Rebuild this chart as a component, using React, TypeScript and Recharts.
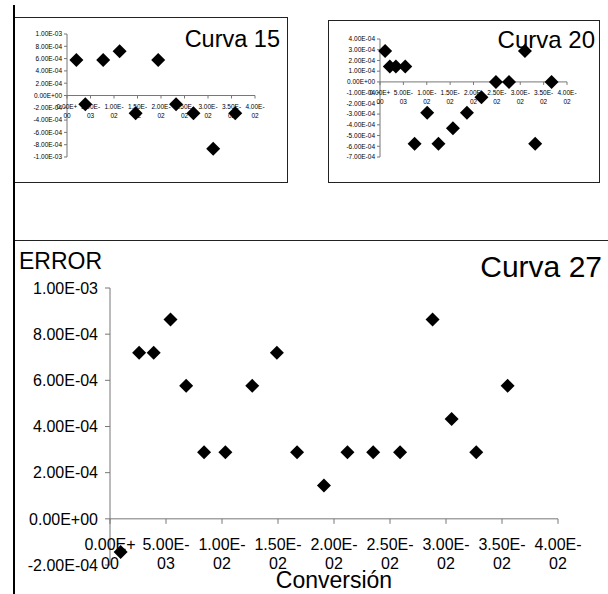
import React from 'react';
import { ScatterChart, Scatter, XAxis, YAxis, ReferenceLine } from 'recharts';

// Curva 15
const c15X = [0.002, 0.0039, 0.0077, 0.0112, 0.0146, 0.0194, 0.0232, 0.0269, 0.0311, 0.0358];
const c15Y = [5.76e-4, -1.44e-4, 5.76e-4, 7.2e-4, -2.88e-4, 5.76e-4, -1.44e-4, -2.88e-4, -8.64e-4, -2.88e-4];
const c15YTicks = [-1e-3, -8e-4, -6e-4, -4e-4, -2e-4, 0, 2e-4, 4e-4, 6e-4, 8e-4, 1e-3];

// Curva 20
const c20X = [0.0011, 0.0021, 0.0034, 0.0054, 0.0074, 0.0101, 0.0125, 0.0156, 0.0186, 0.0217, 0.0248, 0.0276, 0.031, 0.0332, 0.0367];
const c20Y = [2.88e-4, 1.44e-4, 1.44e-4, 1.44e-4, -5.76e-4, -2.88e-4, -5.76e-4, -4.32e-4, -2.88e-4, -1.44e-4, 0, 0, 2.88e-4, -5.76e-4, 0];
const c20YTicks = [-7e-4, -6e-4, -5e-4, -4e-4, -3e-4, -2e-4, -1e-4, 0, 1e-4, 2e-4, 3e-4, 4e-4];

// Curva 27
const c27X = [0.00095, 0.0026, 0.0039, 0.0054, 0.0068, 0.0084, 0.0103, 0.0127, 0.0149, 0.0167, 0.0191, 0.0212, 0.0235, 0.0259, 0.0288, 0.0305, 0.0327, 0.0355];
const c27Y = [-1.44e-4, 7.2e-4, 7.2e-4, 8.64e-4, 5.76e-4, 2.88e-4, 2.88e-4, 5.76e-4, 7.2e-4, 2.88e-4, 1.44e-4, 2.88e-4, 2.88e-4, 2.88e-4, 8.64e-4, 4.32e-4, 2.88e-4, 5.76e-4];
const c27YTicks = [-2e-4, 0, 2e-4, 4e-4, 6e-4, 8e-4, 1e-3];

const xTicks = [0, 0.005, 0.01, 0.015, 0.02, 0.025, 0.03, 0.035, 0.04];

const FONT = '"Liberation Sans", Arial, sans-serif';
const AXIS = '#777';

const fmt = (v: number) => {
  const [m, e] = v.toExponential(2).split('e');
  const n = parseInt(e, 10);
  return `${m}E${n < 0 ? '-' : '+'}${String(Math.abs(n)).padStart(2, '0')}`;
};

const Diamond = (props: any) => {
  const { cx, cy } = props;
  const r = 7;
  return <polygon points={`${cx},${cy - r} ${cx + r},${cy} ${cx},${cy + r} ${cx - r},${cy}`} fill="#000" />;
};

function ErrorChart({ xs, ys, yTicks, left, top, width, height, margin, yAxisWidth, fontSize, tickLen, line1, line2, tickMargin }: any) {
  const data = xs.map((x: number, i: number) => ({ x, y: ys[i] }));
  const axisPts = xTicks.map((x) => ({ x, y: 0 }));
  const XTick = (p: any) => {
    const s = fmt(p.payload.x);
    return (
      <g>
        <line x1={p.cx} y1={p.cy} x2={p.cx} y2={p.cy + tickLen} stroke={AXIS} />
        <text x={p.cx} y={p.cy + line1} textAnchor="middle" fontSize={fontSize} fontFamily={FONT} fill="#000">{s.slice(0, 6)}</text>
        <text x={p.cx} y={p.cy + line2} textAnchor="middle" fontSize={fontSize} fontFamily={FONT} fill="#000">{s.slice(6)}</text>
      </g>
    );
  };
  return (
    <div style={{ position: 'absolute', left, top }}>
      <ScatterChart width={width} height={height} margin={margin}>
        <XAxis type="number" dataKey="x" domain={[0, 0.04]} hide />
        <YAxis
          type="number"
          dataKey="y"
          domain={[yTicks[0], yTicks[yTicks.length - 1]]}
          ticks={yTicks}
          interval={0}
          width={yAxisWidth}
          tickFormatter={fmt}
          tickSize={tickLen}
          tickMargin={tickMargin}
          axisLine={{ stroke: AXIS }}
          tickLine={{ stroke: AXIS }}
          tick={{ fontSize, fill: '#000', fontFamily: FONT }}
        />
        <ReferenceLine y={0} stroke={AXIS} />
        <Scatter data={axisPts} shape={XTick} isAnimationActive={false} />
        <Scatter data={data} shape={Diamond} isAnimationActive={false} />
      </ScatterChart>
    </div>
  );
}

export default function App() {
  return (
    <div style={{ position: 'fixed', left: 0, top: 0, width: 608, height: 594, overflow: 'hidden', background: '#fff', fontFamily: FONT }}>
      <svg width={608} height={594} style={{ position: 'absolute', left: 0, top: 0 }}>
        <rect x={14.5} y={17.5} width={273} height={165} fill="none" stroke="#222" />
        <rect x={328.5} y={20.5} width={271} height={162} fill="none" stroke="#222" />
        <rect x={13.5} y={240.5} width={620} height={400} fill="none" stroke="#222" />
        <line x1={14} y1={5} x2={14} y2={594} stroke="#000" strokeWidth={2} />
      </svg>
      <ErrorChart
        xs={c15X} ys={c15Y} yTicks={c15YTicks}
        left={14} top={17} width={274} height={166}
        margin={{ top: 17, right: 33, bottom: 26, left: 0 }}
        yAxisWidth={53} fontSize={6.5} tickLen={3} tickMargin={2} line1={13} line2={22}
      />
      <ErrorChart
        xs={c20X} ys={c20Y} yTicks={c20YTicks}
        left={328} top={20} width={272} height={163}
        margin={{ top: 19, right: 33, bottom: 26, left: 0 }}
        yAxisWidth={52} fontSize={6.5} tickLen={3} tickMargin={2} line1={13} line2={22}
      />
      <ErrorChart
        xs={c27X} ys={c27Y} yTicks={c27YTicks}
        left={0} top={240} width={608} height={354}
        margin={{ top: 48, right: 50, bottom: 29, left: 0 }}
        yAxisWidth={110} fontSize={16} tickLen={5} tickMargin={7} line1={31} line2={50}
      />
      <svg width={608} height={594} style={{ position: 'absolute', left: 0, top: 0, pointerEvents: 'none' }}>
        <text x={280} y={47} textAnchor="end" fontSize={23.5} fontFamily={FONT} fill="#000">Curva 15</text>
        <text x={595} y={48} textAnchor="end" fontSize={24} fontFamily={FONT} fill="#000">Curva 20</text>
        <text x={19} y={269} fontSize={23} fontFamily={FONT} fill="#000">ERROR</text>
        <text x={602} y={277} textAnchor="end" fontSize={30} fontFamily={FONT} fill="#000">Curva 27</text>
        <text x={334} y={588} textAnchor="middle" fontSize={23} fontFamily={FONT} fill="#000">Conversión</text>
      </svg>
    </div>
  );
}
